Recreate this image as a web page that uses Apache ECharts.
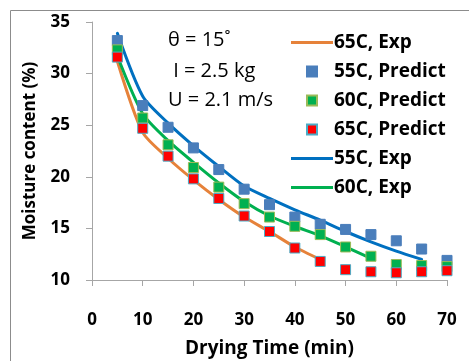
<!DOCTYPE html>
<html><head><meta charset="utf-8">
<script src="https://cdn.jsdelivr.net/npm/echarts@6/dist/echarts.min.js"></script>
<style>html,body{margin:0;padding:0;background:#fff}#c{width:469px;height:361px}</style>
</head><body><div id="c"></div>
<script>
const predictX = [5,10,15,20,25,30,35,40,45,50,55,60,65,70];
const pred55 = [33.2,26.9,24.8,22.8,20.7,18.8,17.3,16.1,15.4,14.9,14.4,13.8,13.0,11.9];
const pred60 = [32.3,25.7,23.1,20.9,19.0,17.4,16.1,15.2,14.4,13.2,12.3,11.5,11.4,11.3];
const pred65 = [31.6,24.7,22.0,19.8,17.9,16.2,14.7,13.1,11.8,11.0,10.8,10.7,10.8,10.9];
const exp55X = [5,10,15,20,25,30,35,40,45,50,55,60,65];
const exp55 = [33.9,27.8,25.2,23.0,21.0,19.1,17.9,16.8,15.8,14.7,13.7,12.8,12.0];
const exp60X = [5,10,15,20,25,30,35,40,45,50,55];
const exp60 = [31.7,26.1,23.5,21.4,19.4,17.6,16.2,15.2,14.3,13.2,12.1];
const exp65X = [5,10,15,20,25,30,35,40,45];
const exp65 = [31.2,24.3,21.8,19.7,17.8,16.1,14.7,13.2,12.0];
const xTicks = [0,10,20,30,40,50,60,70];
const yTicks = [10,15,20,25,30,35];
const legendOrder = ['65C, Exp','55C, Predict','60C, Predict','65C, Predict','55C, Exp','60C, Exp'];
const notes = ['θ = 15˚',' I = 2.5 kg','U = 2.1 m/s'];

const zip = (xs, ys) => xs.map((x,i)=>[x, ys[i]]);
const FONT = '"Open Sans", "Liberation Sans", sans-serif';
const chart = echarts.init(document.getElementById('c'));
const axisCol = '#a6a6a6';
const LINE_ICON = 'path://M0,0L42,0L42,3L0,3Z';
const SQ_ICON = 'path://M0,0L10,0L10,10L0,10Z';
const line = (name, xs, ys, color) => ({name, type:'line', data: zip(xs,ys), smooth:0.25, symbol:'none',
  lineStyle:{color, width:3, cap:'round'}, itemStyle:{color}, z:2});
const sq = (name, ys, color, border) => ({name, type:'scatter', data: zip(predictX, ys), symbol:'rect', symbolSize:10,
  itemStyle:{color, borderColor:border, borderWidth:1, opacity:1}, z:3});
chart.setOption({
  animation:false,
  grid:{left:92, right:22, top:22, bottom:81, containLabel:false, outerBoundsMode:'none'},
  xAxis:{type:'value', min:0, max:70, interval:10,
    axisLine:{lineStyle:{color:axisCol}}, axisTick:{show:true, length:6, lineStyle:{color:axisCol}},
    splitLine:{show:false},
    axisLabel:{margin:32, color:'#000', fontWeight:'bold', fontSize:17, fontFamily:FONT,
      formatter:v=> xTicks.includes(v)? String(v):''},
    name:'Drying Time (min)', nameLocation:'middle', nameGap:59,
    nameTextStyle:{color:'#000', fontWeight:'bold', fontSize:19, fontFamily:FONT}},
  yAxis:{type:'value', min:10, max:35, interval:5,
    axisLine:{show:true, lineStyle:{color:axisCol}}, axisTick:{show:true, length:6, lineStyle:{color:axisCol}},
    splitLine:{show:false},
    axisLabel:{margin:22, color:'#000', fontWeight:'bold', fontSize:17, fontFamily:FONT,
      formatter:v=> yTicks.includes(v)? String(v):''},
    name:'Moisture content (%)', nameLocation:'middle', nameGap:53,
    nameTextStyle:{color:'#000', fontWeight:'bold', fontSize:17, fontFamily:FONT}},
  legend:{show:true, orient:'vertical', left:286, top:28, itemGap:10, itemWidth:42, itemHeight:10,
    data:legendOrder.map(n=>({name:n, icon: n.includes('Exp') ? LINE_ICON : SQ_ICON})),
    textStyle:{color:'#000', fontWeight:'bold', fontSize:19, fontFamily:FONT, padding:[0,0,0,-4]}},
  graphic:[
    {type:'rect', shape:{x:10.5,y:10.5,width:470,height:360}, style:{fill:'none', stroke:'#8c8c8c', lineWidth:1}, silent:true},
    {type:'text', left:168, top:30, style:{text:notes[0], font:'20px '+FONT, fill:'#000'}},
    {type:'text', left:168, top:61, style:{text:notes[1], font:'20px '+FONT, fill:'#000'}},
    {type:'text', left:168, top:90, style:{text:notes[2], font:'20px '+FONT, fill:'#000'}}
  ],
  series:[
    line('65C, Exp', exp65X, exp65, '#E6823A'),
    sq('55C, Predict', pred55, '#4A7EBB', '#4A7EBB'),
    sq('60C, Predict', pred60, '#00B050', '#9BBB59'),
    sq('65C, Predict', pred65, '#FF0000', '#4BACC6'),
    line('55C, Exp', exp55X, exp55, '#0070C0'),
    line('60C, Exp', exp60X, exp60, '#00B050')
  ]
});
</script></body></html>
